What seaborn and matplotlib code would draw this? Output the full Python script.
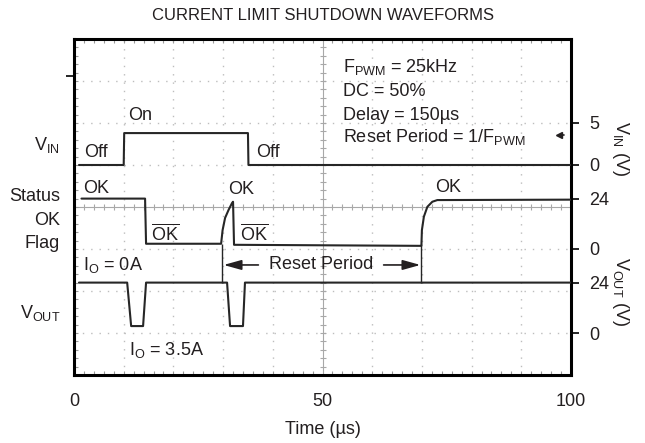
import numpy as np
import pandas as pd
import matplotlib
matplotlib.use("Agg")
import matplotlib.pyplot as plt
import seaborn as sns
from matplotlib.ticker import MultipleLocator

# ---------------- data (time in µs, values in volts) ----------------
VIN_T = [1.0, 10.0, 10.1, 35.0, 35.1, 100.0]
VIN_V = [0.0, 0.0, 3.8, 3.8, 0.0, 0.0]

STATUS_T = [1.5, 14.3, 14.5, 29.6, 29.9, 30.4, 31.1, 31.8, 32.0, 32.2,
            69.9, 70.0, 70.4, 71.1, 72.1, 73.1, 100.0]
STATUS_V = [24.0, 24.0, 2.5, 2.5, 9.0, 14.8, 18.6, 21.9, 22.5, 2.0,
            1.5, 9.0, 15.4, 20.1, 22.5, 23.3, 23.5]

VOUT_T = [1.0, 10.7, 11.5, 13.9, 14.5, 30.8, 31.4, 34.0, 34.4, 100.0]
VOUT_V = [24.0, 24.0, 3.3, 3.3, 24.0, 24.0, 3.3, 3.3, 24.0, 24.0]

RESET_T = [29.8, 69.9]          # reset-period markers (µs)

# scope channel settings: (offset in divisions, volts per division)
CH_VIN = (5.0, 5.0)
CH_STATUS = (3.0, 20.0)
CH_VOUT = (1.0, 20.0)

RIGHT_TICKS_VIN = [5, 0]
RIGHT_TICKS_STATUS = [24, 0]
RIGHT_TICKS_VOUT = [24, 0]

X_TICKS = [0, 50, 100]


def to_div(v, ch):
    return ch[0] + np.asarray(v, dtype=float) / ch[1]


INK = "#231f20"
TRACE = "#262626"
FS = 13

sns.set_theme(style="white")
plt.rcParams["font.family"] = ["Liberation Sans", "DejaVu Sans"]
plt.rcParams["mathtext.fontset"] = "custom"
plt.rcParams["mathtext.rm"] = "Liberation Sans"
plt.rcParams["text.color"] = INK

fig = plt.figure(figsize=(6.45, 4.43), dpi=100)
ax = fig.add_axes([74 / 645, 1 - 375 / 443, 497 / 645, 336 / 443])
ax.set_xlim(0, 100)
ax.set_ylim(0, 8)

# ---------------- graticule ----------------
for gx in np.arange(10, 100, 10):
    if gx == 50:
        continue
    ax.axvline(gx, color="#bdbdbd", lw=1.0, ls=(0, (1, 5)), zorder=0)
for gy in np.arange(1, 8, 1):
    if gy == 4:
        continue
    ax.axhline(gy, color="#bdbdbd", lw=1.0, ls=(0, (1, 5)), zorder=0)
ax.axhline(4, color="#a8a8a8", lw=0.8, zorder=0)
ax.axvline(50, color="#a8a8a8", lw=0.8, zorder=0)
mx = np.arange(0, 100.01, 2)
ax.plot(mx, np.full_like(mx, 4.0), ls="none", marker="|", ms=5, mew=0.8,
        color="#a8a8a8", zorder=0)
my = np.arange(0, 8.01, 0.2)
ax.plot(np.full_like(my, 50.0), my, ls="none", marker="_", ms=5, mew=0.8,
        color="#a8a8a8", zorder=0)

# ---------------- traces ----------------
frames = []
for name, t, v, ch in [("VIN", VIN_T, VIN_V, CH_VIN),
                       ("STATUS", STATUS_T, STATUS_V, CH_STATUS),
                       ("VOUT", VOUT_T, VOUT_V, CH_VOUT)]:
    frames.append(pd.DataFrame({"t": t, "div": to_div(v, ch), "ch": name}))
df = pd.concat(frames, ignore_index=True)
sns.lineplot(data=df, x="t", y="div", units="ch", estimator=None, sort=False,
             color=TRACE, lw=1.5, ax=ax, legend=False, zorder=3)

# reset-period marker lines
lo = to_div(2.5, CH_STATUS)
hi = to_div(24.0, CH_VOUT)
ax.vlines(RESET_T, hi, lo, color=TRACE, lw=1.0, zorder=3)

# arrows + label
ya = 2.62
ax.annotate("", xy=(RESET_T[0] + 0.3, ya), xytext=(37.1, ya),
            arrowprops=dict(arrowstyle="-|>,head_length=0.9,head_width=0.25",
                            color=INK, lw=1.2, shrinkA=0, shrinkB=0))
ax.annotate("", xy=(RESET_T[1] - 0.2, ya), xytext=(62.3, ya),
            arrowprops=dict(arrowstyle="-|>,head_length=0.9,head_width=0.25",
                            color=INK, lw=1.2, shrinkA=0, shrinkB=0))
ax.text(49.7, ya, "Reset Period", fontsize=FS, ha="center", va="center")

# trigger-level marker
ax.plot([97.6], [5.71], marker="<", ms=4.5, color=INK, ls="none", zorder=4)
ax.plot([97.6, 98.6], [5.71, 5.71], color=INK, lw=1.2, zorder=4)

# ---------------- in-plot labels ----------------
ax.text(10.9, 6.17, "On", fontsize=FS, va="center")
ax.text(2.0, 5.29, "Off", fontsize=FS, va="center")
ax.text(36.6, 5.29, "Off", fontsize=FS, va="center")
ax.text(1.9, 4.45, "OK", fontsize=FS, va="center")
ax.text(31.1, 4.42, "OK", fontsize=FS, va="center")
ax.text(72.7, 4.47, "OK", fontsize=FS, va="center")
ax.text(15.5, 3.35, r"$\overline{\mathregular{OK}}$", fontsize=FS, va="center")
ax.text(33.4, 3.35, r"$\overline{\mathregular{OK}}$", fontsize=FS, va="center")
ax.text(1.8, 2.62, r"I$_{\mathregular{O}}$ = 0A", fontsize=FS, va="center")
ax.text(11.0, 0.6, r"I$_{\mathregular{O}}$ = 3.5A", fontsize=FS, va="center")

box = [r"F$_{\mathregular{PWM}}$ = 25kHz", "DC = 50%", "Delay = 150µs",
       r"Reset Period = 1/F$_{\mathregular{PWM}}$"]
for line, yy in zip(box, [7.33, 6.76, 6.19, 5.67]):
    ax.text(54.1, yy, line, fontsize=FS, va="center")

# left channel labels
tr = ax.get_yaxis_transform()
for s, yy in [(r"V$_{\mathregular{IN}}$", 5.48), ("Status", 4.24), ("OK", 3.69),
              ("Flag", 3.14), (r"V$_{\mathregular{OUT}}$", 1.48)]:
    ax.text(-0.028, yy, s, transform=tr, fontsize=FS, ha="right", va="center")

# right axis titles
ax.text(1.10, 5.4, r"V$_{\mathregular{IN}}$ (V)", transform=tr, fontsize=FS,
        rotation=270, ha="center", va="center")
ax.text(1.10, 1.98, r"V$_{\mathregular{OUT}}$ (V)", transform=tr, fontsize=FS,
        rotation=270, ha="center", va="center")

# ---------------- axes styling ----------------
for sp in ax.spines.values():
    sp.set_visible(True)
    sp.set_linewidth(2.2)
    sp.set_color("black")

ax.set_xticks(X_TICKS)
ax.set_xticklabels([str(x) for x in X_TICKS])
ax.xaxis.set_minor_locator(MultipleLocator(2))
ax.yaxis.set_minor_locator(MultipleLocator(0.2))
ax.set_yticks([7.12])
ax.set_yticklabels([""])
ax.tick_params(axis="x", which="major", length=0, pad=13, labelsize=FS,
               colors=INK)
ax.tick_params(axis="y", which="major", direction="out", length=6, width=1.2,
               left=True, right=False, color="black")
ax.tick_params(which="minor", direction="in", length=3, width=0.8,
               color="#9a9a9a", top=True, bottom=True, left=True, right=True)
ax.set_xlabel("Time (µs)", fontsize=FS, labelpad=8, color=INK)
ax.set_ylabel("")
ax.set_title("CURRENT LIMIT SHUTDOWN WAVEFORMS", fontsize=12, pad=14,
             color=INK)

ax2 = ax.twinx()
ax2.set_ylim(0, 8)
rpos = list(to_div(RIGHT_TICKS_VIN, CH_VIN)) + \
    list(to_div(RIGHT_TICKS_STATUS, CH_STATUS)) + \
    list(to_div(RIGHT_TICKS_VOUT, CH_VOUT))
rlab = [str(v) for v in RIGHT_TICKS_VIN + RIGHT_TICKS_STATUS + RIGHT_TICKS_VOUT]
ax2.set_yticks(rpos)
ax2.set_yticklabels(rlab)
ax2.tick_params(axis="y", direction="out", length=6, width=1.2, pad=7,
                labelsize=FS, colors=INK)
ax2.tick_params(axis="y", color="black")
for sp in ax2.spines.values():
    sp.set_visible(False)
ax2.grid(False)

fig.savefig("out.png", dpi=100)
